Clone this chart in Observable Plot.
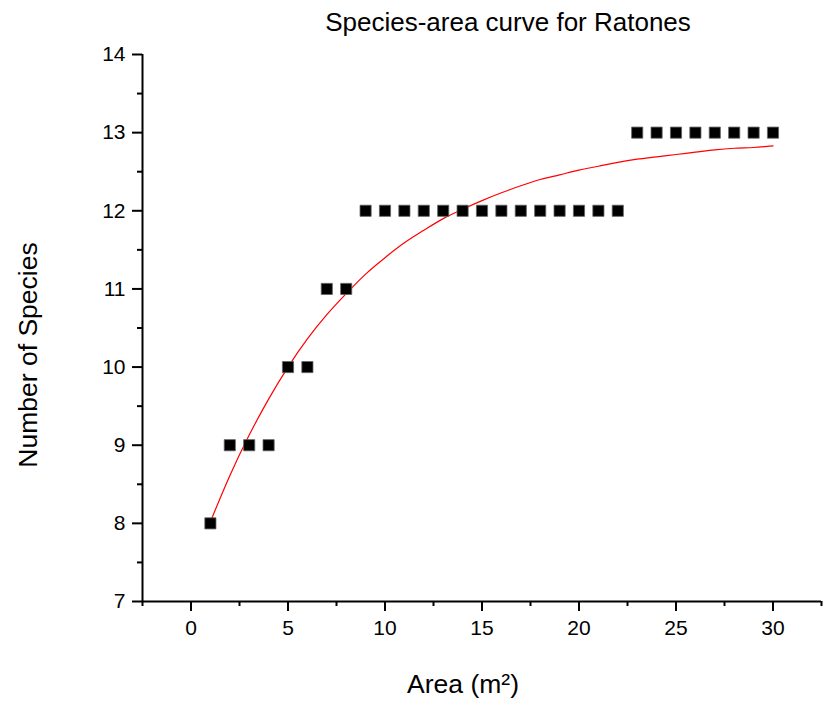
<!DOCTYPE html>
<html><head><meta charset="utf-8">
<script src="https://cdn.jsdelivr.net/npm/d3@7"></script>
<script src="https://cdn.jsdelivr.net/npm/@observablehq/plot@0.6"></script>
<style>body{margin:0;background:#fff}</style>
</head><body><div id="chart"></div>
<script>
const areas = [1,2,3,4,5,6,7,8,9,10,11,12,13,14,15,16,17,18,19,20,21,22,23,24,25,26,27,28,29,30];
const species = [8,9,9,9,10,10,11,11,12,12,12,12,12,12,12,12,12,12,12,12,12,12,13,13,13,13,13,13,13,13];
const fitArea = [1,2,3,4,5,6,7,8,9,10,11,12,13,14,15,16,17,18,19,20,21,22,23,24,25,26,27,28,29,30];
const fitSpecies = [8.02,8.61,9.13,9.59,10.00,10.36,10.67,10.94,11.19,11.40,11.59,11.75,11.90,12.02,12.13,12.23,12.32,12.40,12.46,12.52,12.57,12.62,12.66,12.69,12.72,12.75,12.78,12.80,12.81,12.83];
const xMajorTicks = [0,5,10,15,20,25,30];
const xMinorTicks = [-2.5,2.5,7.5,12.5,17.5,22.5,27.5,32.5];
const yMajorTicks = [7,8,9,10,11,12,13,14];
const yMinorTicks = [7.5,8.5,9.5,10.5,11.5,12.5,13.5];
const titleText = "Species-area curve for Ratones";
const xLabel = "Area (m²)";
const yLabel = "Number of Species";

const points = areas.map((a, i) => ({area: a, species: species[i]}));
const fit = fitArea.map((a, i) => ({area: a, species: fitSpecies[i]}));

const chart = Plot.plot({
  width: 823,
  height: 704,
  marginLeft: 142,
  marginRight: 2,
  marginTop: 54,
  marginBottom: 103,
  style: {fontFamily: "'Liberation Sans', Arial, sans-serif", fontSize: "21px", background: "#fff", color: "#000"},
  x: {domain: [-2.5, 32.5]},
  y: {domain: [7, 14]},
  marks: [
    Plot.axisX(xMinorTicks, {tickSize: 5, tickFormat: () => "", strokeWidth: 2, label: null}),
    Plot.axisX(xMajorTicks, {tickSize: 10, tickPadding: 9, fontSize: 21, tickFormat: d => String(d), strokeWidth: 2, label: null}),
    Plot.axisY(yMinorTicks, {tickSize: 5, tickFormat: () => "", strokeWidth: 2, label: null}),
    Plot.axisY(yMajorTicks, {tickSize: 10, tickPadding: 7, fontSize: 21, tickFormat: d => String(d), strokeWidth: 2, label: null}),
    Plot.ruleX([-2.5], {strokeWidth: 2}),
    Plot.ruleY([7], {strokeWidth: 2}),
    Plot.line(fit, {x: "area", y: "species", stroke: "red", strokeWidth: 1.2, curve: "monotone-x"}),
    Plot.dot(points, {x: "area", y: "species", symbol: "square", r: 6.3, fill: "black", stroke: "#666", strokeWidth: 0.8}),
    Plot.text([titleText], {text: d => d, frameAnchor: "top", dx: 26, dy: -32, fontSize: 26, lineAnchor: "middle"}),
    Plot.text([xLabel], {text: d => d, frameAnchor: "bottom", dx: -19, dy: 83, fontSize: 26.5, lineAnchor: "middle"}),
    Plot.text([yLabel], {text: d => d, frameAnchor: "left", dx: -114, dy: 27, fontSize: 26.5, rotate: -90, textAnchor: "middle", lineAnchor: "middle"})
  ]
});
document.getElementById("chart").appendChild(chart);
</script>
</body></html>
